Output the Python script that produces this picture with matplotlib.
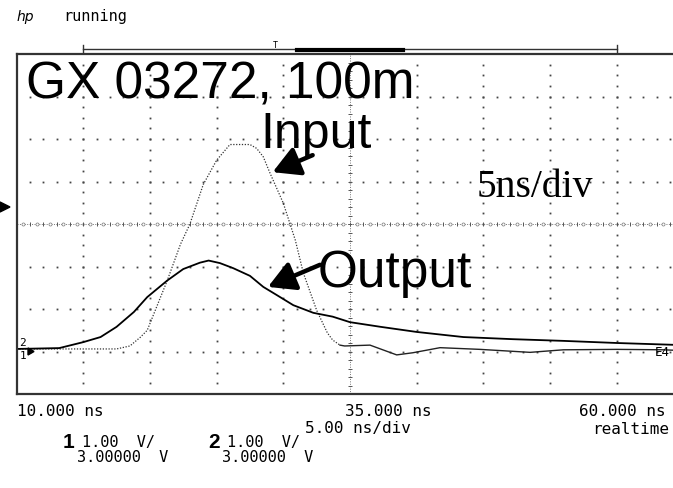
import matplotlib
matplotlib.use('Agg')
import matplotlib.pyplot as plt
import numpy as np
from matplotlib.patches import Polygon
from matplotlib.lines import Line2D


# Oscilloscope screenshot: input pulse vs. output pulse after 100 m of cable


### Data (time [ns], voltage [V]) ###

input_t = [10.0, 17.5, 18.5, 19.3, 19.8, 21.3, 22.3, 23.0, 24.0, 25.0, 26.0,
           27.5, 28.0, 28.5, 29.0, 30.0, 30.9, 31.5, 32.5, 33.3, 33.7, 34.25,
           34.6, 36.5, 38.5, 39.7, 41.75, 44.75, 48.5, 51.0, 55.0, 58.5, 60.0]
input_v = [0.06, 0.06, 0.13, 0.34, 0.50, 1.67, 2.53, 3.00, 3.93, 4.50, 4.87,
           4.87, 4.78, 4.58, 4.20, 3.49, 2.62, 1.85, 0.97, 0.44, 0.27, 0.15,
           0.13, 0.15, -0.08, -0.03, 0.09, 0.05, -0.02, 0.04, 0.05, 0.04, 0.02]

output_t = [10.0, 13.2, 15.0, 16.3, 17.5, 18.8, 19.8, 21.3, 22.5, 23.75, 24.4,
            25.25, 26.25, 27.5, 28.5, 29.5, 30.75, 32.25, 33.7, 35.0, 37.3,
            40.0, 43.5, 47.2, 51.0, 55.0, 60.0]
output_v = [0.06, 0.08, 0.22, 0.34, 0.58, 0.93, 1.28, 1.67, 1.94, 2.09, 2.14,
            2.08, 1.96, 1.78, 1.52, 1.33, 1.09, 0.91, 0.82, 0.69, 0.58,
            0.46, 0.34, 0.29, 0.25, 0.20, 0.15]

t_left, t_right = 10.0, 60.0      # 5 ns/div, 10 div
v_low, v_high = -1.0, 7.0         # 1 V/div, offset 3 V

W, H = 673, 488


def px(x, y):
    # pixel position (from top left) -> figure fraction
    return x / W, 1 - y / H


fig = plt.figure(figsize=(W / 100, H / 100), dpi=100)
ax = fig.add_axes([16.5 / W, (H - 394) / H, 667 / W, 340 / H])
ax.set_xlim(t_left, t_right)
ax.set_ylim(v_low, v_high)
ax.set_xticks([])
ax.set_yticks([])
for side in ['left', 'top', 'bottom']:
    ax.spines[side].set_linewidth(1.6)
    ax.spines[side].set_color('#333333')
ax.spines['right'].set_visible(False)

## Graticule dots ##
grid_col = '#444444'
for v in np.arange(v_low + 1, v_high, 1.0):
    if v == 3.0:
        continue
    xs = np.arange(t_left + 1, t_right, 1.0)
    ax.plot(xs, np.full_like(xs, v), ls='none', marker='s', ms=1.3,
            mec='none', mfc=grid_col)
for t in np.arange(t_left + 5, t_right, 5.0):
    if t == 35.0:
        continue
    ys = np.arange(v_low + 0.25, v_high, 0.25)
    ax.plot(np.full_like(ys, t), ys, ls='none', marker='s', ms=1.3,
            mec='none', mfc=grid_col)

# centre axes with small tick marks
ax.axhline(3.0, color='#777777', lw=0.7, ls=(0, (1, 1.5)))
xs = np.arange(t_left + 1, t_right, 1.0)
ax.plot(xs, np.full_like(xs, 3.0), ls='none', marker='|', ms=3.5,
        mew=0.7, color='#555555')
ax.plot(xs - 0.5, np.full_like(xs, 3.0), ls='none', marker='o', ms=2.2,
        mew=0.5, mfc='white', mec='#777777')
ax.axvline(35.0, color='#777777', lw=0.7, ls=(0, (1, 1.5)))
ys = np.arange(v_low + 0.2, v_high, 0.2)
ax.plot(np.full_like(ys, 35.0), ys, ls='none', marker='_', ms=3.5,
        mew=0.7, color='#555555')

## Traces ##
# the steep part of the input pulse shows up dotted on the screen,
# the flat tail after the pulse looks like a solid line
tail = input_t.index(34.25)
ax.plot(input_t[:tail + 1], input_v[:tail + 1], color='#333333', lw=0.9,
        ls=(0, (1, 1.3)))
ax.plot(input_t[tail:], input_v[tail:], color='#222222', lw=1.0)
ax.plot(output_t, output_v, color='black', lw=1.3)

## Labels and arrows ##
ax.text(10.71, 5.96, 'GX 03272, 100m', family='Liberation Sans',
        fontsize=37, va='baseline', ha='left', color='black')
ax.text(28.25, 4.79, 'Input', family='Liberation Sans',
        fontsize=36, va='baseline', ha='left', color='black')
ax.text(32.6, 1.52, 'Output', family='Liberation Sans',
        fontsize=37, va='baseline', ha='left', color='black')
ax.text(44.5, 3.64, '5ns/div', family='Liberation Serif',
        fontsize=28.5, va='baseline', ha='left', color='black')

arrow = dict(arrowstyle='-|>,head_length=0.9,head_width=0.5', lw=3.2,
             color='black', mutation_scale=18, shrinkA=0, shrinkB=0)
ax.annotate('', xy=(29.2, 4.22), xytext=(32.2, 4.62), arrowprops=arrow)
ax.annotate('', xy=(28.85, 1.52), xytext=(32.75, 2.04), arrowprops=arrow)

## Screen decorations outside the graticule ##
mono = 'DejaVu Sans Mono'
fig.text(*px(17, 17), 'hp', fontsize=10, style='italic', va='center')
fig.text(*px(63, 17), 'running', family=mono, fontsize=11, va='center')

# memory bar at the top
fig.add_artist(Line2D([83 / W, 617 / W], [1 - 49 / H] * 2, color='#333333', lw=1.0))
for xe in [83, 617]:
    fig.add_artist(Line2D([xe / W] * 2, [1 - 45 / H, 1 - 53 / H], color='#333333', lw=1.0))
fig.add_artist(Line2D([297 / W, 403 / W], [1 - 50 / H] * 2, color='black', lw=3.0))
fig.text(*px(275, 46), 'T', family=mono, fontsize=6, ha='center', va='center')

# trigger level and ground markers
fig.add_artist(Polygon([px(0, 202), px(10, 207), px(0, 212)],
                       closed=True, color='black', transform=fig.transFigure))
fig.text(*px(23, 343), '2', family=mono, fontsize=8, ha='center', va='center')
fig.text(*px(23, 356), '1', family=mono, fontsize=8, ha='center', va='center')
fig.add_artist(Polygon([px(28, 348), px(34, 351.5), px(28, 355)],
                       closed=True, color='black', transform=fig.transFigure))
fig.text(*px(662, 353), 'E4', family=mono, fontsize=9, ha='center', va='center')

# time base readout
fig.text(*px(17, 411), '10.000 ns', family=mono, fontsize=11.5, va='center')
fig.text(*px(345, 411), '35.000 ns', family=mono, fontsize=11.5, va='center')
fig.text(*px(579, 411), '60.000 ns', family=mono, fontsize=11.5, va='center')
fig.text(*px(305, 429), '5.00 ns/div', family=mono, fontsize=11.5, va='center')
fig.text(*px(592, 429), 'realtime', family=mono, fontsize=11.5, va='center')

# channel readout
fig.text(*px(63, 442), '1', family='Liberation Sans', fontsize=15,
         weight='bold', va='center')
fig.text(*px(82, 443), '1.00  V/', family=mono, fontsize=11, va='center')
fig.text(*px(208, 442), '2', family='Liberation Sans', fontsize=15,
         weight='bold', va='center')
fig.text(*px(227, 443), '1.00  V/', family=mono, fontsize=11, va='center')
fig.text(*px(77, 457), '3.00000  V', family=mono, fontsize=11, va='center')
fig.text(*px(222, 457), '3.00000  V', family=mono, fontsize=11, va='center')

plt.savefig('out.png', dpi=100)
